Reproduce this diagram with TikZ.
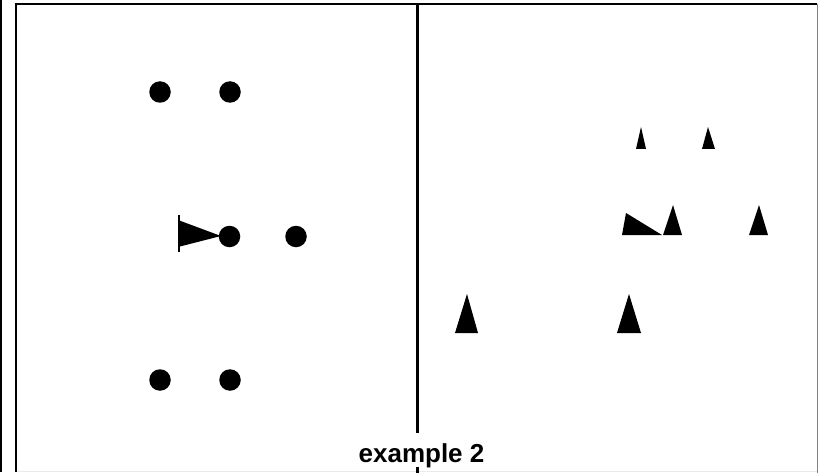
\documentclass[tikz,border=0pt]{standalone}
\usepackage{fontspec}
\setmainfont{Liberation Sans}
\begin{document}
\begin{tikzpicture}[x=1pt,y=-1pt,
  frame/.style={line width=2pt,black},
  dot/.style={circle,fill=black,inner sep=0pt,minimum size=21.5pt},
  cone/.style={fill=black}]
\useasboundingbox (0,0) rectangle (818,473);
\fill[white] (0,0) rectangle (818,473);
% frame
\coordinate (l1t) at (1.2,0); \coordinate (l1b) at (1.2,472);
\coordinate (l2t) at (16.2,3); \coordinate (l2b) at (16.2,472);
\coordinate (tr) at (817,3.9);
\coordinate (tl) at (15.2,3.9);
\draw[frame] (l1t) -- (l1b);
\draw[frame] (l2t) -- (l2b);
\draw[frame] (tl) -- (tr);
\draw[gray,line width=1pt] (817.3,4) -- (817.3,473);
\draw[black!8,line width=1pt] (17,471.8) -- (817,471.8);
\coordinate (mt) at (417.5,4); \coordinate (mb) at (417.5,473);
\draw[line width=2.6pt] (mt) -- (mb);
% caption
\node[fill=white,inner sep=0pt,anchor=base,text height=29pt,text depth=5pt,
  font=\bfseries\fontsize{26}{26}\selectfont] (cap) at (421.5,462) {example 2};
% left dots
\node[dot] (d1) at (160,92) {};
\node[dot] (d2) at (230,92) {};
\node[dot] (d3) at (229.5,236.5) {};
\node[dot] (d4) at (296,236.5) {};
\node[dot] (d5) at (160,380) {};
\node[dot] (d6) at (230,380) {};
% cone pointing right
\fill[cone] (178,220) -- (221,236) -- (178,247) -- cycle;
\draw[line width=2pt] (178.5,215) -- (178.5,252);
% right triangles
\fill[cone] (641,127) -- (646,149) -- (636,149) -- cycle;
\fill[cone] (708,127) -- (715,149) -- (702,149) -- cycle;
\fill[cone] (626,213) -- (662,235) -- (622,235) -- cycle;
\fill[cone] (673,205) -- (682,235) -- (663,235) -- cycle;
\fill[cone] (759,205) -- (768,235) -- (749,235) -- cycle;
\fill[cone] (467,294) -- (478,333) -- (455,333) -- cycle;
\fill[cone] (629,294) -- (641,333) -- (617,333) -- cycle;
\end{tikzpicture}
\end{document}
